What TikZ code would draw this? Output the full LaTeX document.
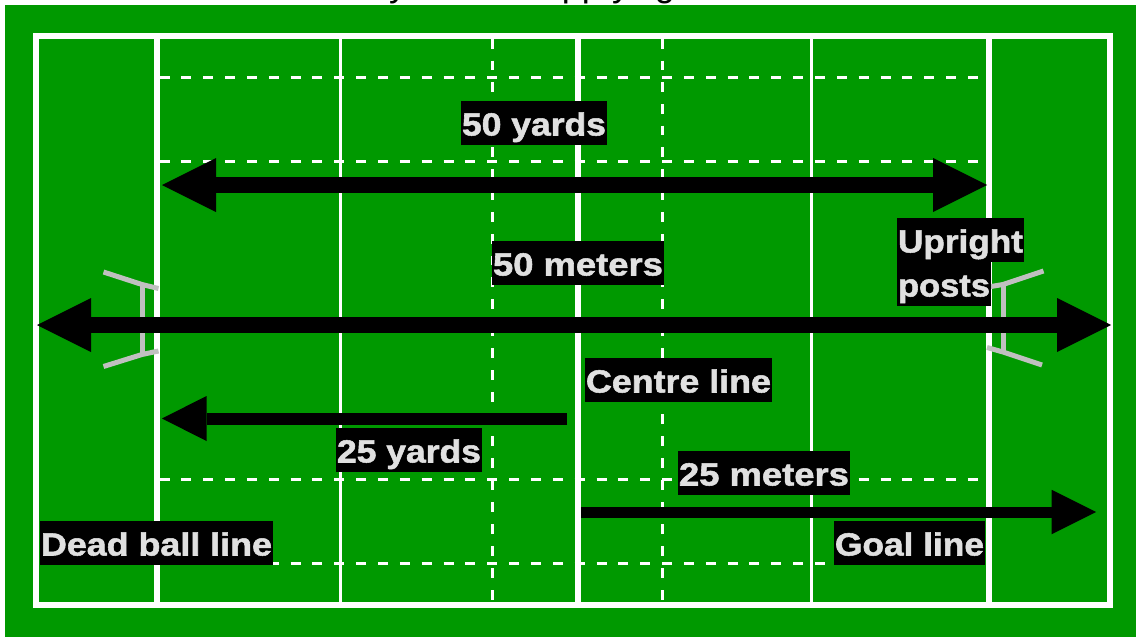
\documentclass[tikz,border=0pt]{standalone}
\usepackage{fontspec}
\usepackage{graphicx}
\setmainfont{Liberation Sans}
\newfontfamily\lblfont[FakeBold=1.6]{Liberation Sans Bold}
\usetikzlibrary{arrows.meta}
\definecolor{pitch}{RGB}{0,153,0}
\definecolor{lbltxt}{RGB}{224,224,224}
\definecolor{postgrey}{RGB}{192,192,192}
\newcommand{\lbltext}[2]{\resizebox{#1pt}{\height}{#2}}
\tikzset{
  thickline/.style={draw=white,line width=6pt},
  thinline/.style={draw=white,line width=3pt},
  dashline/.style={draw=white,line width=3pt,dash pattern=on 10pt off 11.85pt},
  vdashupper/.style={draw=white,line width=3pt,dash pattern=on 9.5pt off 12.17pt},
  vdashlower/.style={draw=white,line width=3pt,dash pattern=on 10pt off 12pt},
  post/.style={draw=postgrey,line width=5pt,line join=bevel},
  bigarrows/.style={draw=black,line width=15.5pt,{Triangle[length=54pt,width=54pt,line width=0pt]}-{Triangle[length=54pt,width=54pt,line width=0pt]}},
  leftarrow/.style={draw=black,line width=12pt,-{Triangle[length=44.5pt,width=45pt,line width=0pt]}},
  rightarrow/.style={draw=black,line width=11pt,-{Triangle[length=44.5pt,width=44.5pt,line width=0pt]}},
  lblbox/.style={fill=black,text=lbltxt,inner sep=0pt,text height=34.5pt,text depth=9.5pt,minimum width=#1,
    font=\fontsize{32}{36}\selectfont\lblfont},
  cliptext/.style={text=black,inner sep=0pt,anchor=base,font=\fontsize{36}{40}\selectfont}
}
\begin{document}
\begin{tikzpicture}[x=1pt,y=-1pt]
\useasboundingbox (0,0) rectangle (1136,637);
\fill[white] (0,0) rectangle (1136,637);
% clipped title remnants
\node[cliptext] (t1) at (398,-3) {y};
\node[cliptext] (t2) at (582,-3) {pp};
\node[cliptext] (t3) at (621,-3) {y};
\node[cliptext] (t4) at (665,-3) {g};
% pitch
\fill[pitch] (4.5,5) rectangle (1136,637);
% dashed lines
\draw[dashline] (159.5,77.3) -- (978,77.3);
\draw[dashline] (159.5,161.3) -- (978,161.3);
\draw[dashline] (159.5,479.5) -- (978,479.5);
\draw[dashline] (159.5,563.5) -- (978,563.5);
\draw[vdashupper] (492.5,39) -- (492.5,325);
\draw[vdashupper] (662.5,39) -- (662.5,325);
\draw[vdashlower] (492.5,326) -- (492.5,602);
\draw[vdashlower] (662.5,326) -- (662.5,602);
% solid lines
\draw[thinline] (340.5,36) -- (340.5,605);
\draw[thinline] (811.5,36) -- (811.5,605);
\draw[thickline] (157,36) -- (157,605);
\draw[thickline] (578,36) -- (578,605);
\draw[thickline] (989,36) -- (989,605);
\draw[thickline] (36,36) rectangle (1110,605);
% upright posts
\draw[post] (103.5,272) -- (142,284.5) -- (158.5,288.5);
\draw[post] (142,284.5) -- (142,354.5);
\draw[post] (103.5,366.5) -- (142,354.5) -- (158.5,351);
\draw[post] (1043.5,271) -- (1003,284.5) -- (988,287);
\draw[post] (1003,284.5) -- (1003,352);
\draw[post] (1042,365) -- (1003,352) -- (987,347.5);
% arrows
\coordinate (a1l) at (162,185);
\coordinate (a1r) at (987,185);
\coordinate (a2l) at (37,325);
\coordinate (a2r) at (1111,325);
\coordinate (a3s) at (567,418.5);
\coordinate (a3e) at (162,418.5);
\coordinate (a4s) at (581,512);
\coordinate (a4e) at (1096,512);
\draw[bigarrows] (a1l) -- (a1r);
\draw[bigarrows] (a2l) -- (a2r);
\draw[leftarrow] (a3s) -- (a3e);
\draw[rightarrow] (a4s) -- (a4e);
% labels
\node[lblbox=146pt] (l50y) at (534,123) {\lbltext{144}{50 yards}};
\node[lblbox=172pt] (l50m) at (578,263) {\lbltext{170}{50 meters}};
\node[lblbox=127pt] (lup) at (960.5,240) {\lbltext{125}{Upright}};
\node[lblbox=94pt] (lpo) at (944,284) {\lbltext{92}{posts}};
\node[lblbox=187pt] (lcl) at (678.5,380) {\lbltext{185}{Centre line}};
\node[lblbox=146pt] (l25y) at (409,450) {\lbltext{144}{25 yards}};
\node[lblbox=172pt] (l25m) at (764,473) {\lbltext{170}{25 meters}};
\node[lblbox=233pt] (ldb) at (156.5,543) {\lbltext{231}{Dead ball line}};
\node[lblbox=151pt] (lgl) at (909.5,543) {\lbltext{149}{Goal line}};
\end{tikzpicture}
\end{document}
